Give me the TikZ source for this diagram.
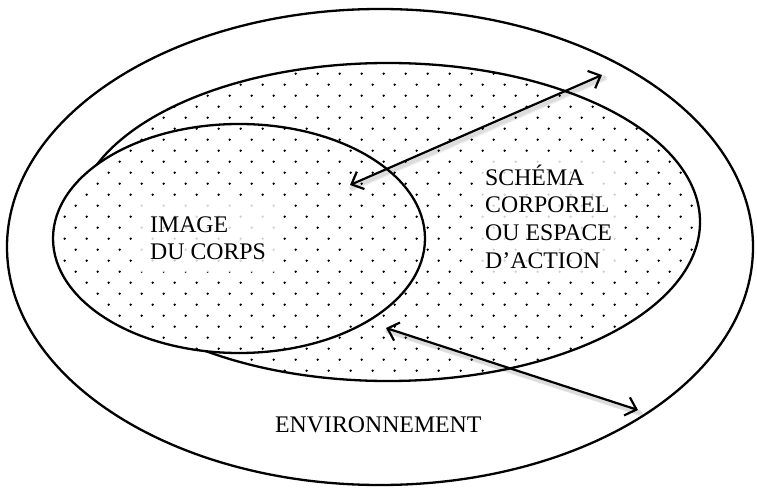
\documentclass[tikz,border=0pt]{standalone}
\usepackage{fontspec}
\setmainfont{Liberation Serif}
\usetikzlibrary{arrows.meta}
\newcommand{\dotgrid}{%
  \foreach \j in {-4,...,25} {
    \pgfmathsetmacro\yy{106.7+11*\j}
    \pgfmathsetmacro\off{mod(abs(\j),2)*11}
    \foreach \i in {-8,...,24} {
      \fill (196.7+22*\i-\off,\yy) circle [radius=1.3];
    }
  }}
\newcommand{\innerregions}{%
  \clip (388,222) ellipse [x radius=312, y radius=159]
        (239,238.5) ellipse [x radius=186, y radius=114.5];}
\begin{document}
\begin{tikzpicture}[x=1pt,y=-1pt,
  ring/.style={line width=2.3pt},
  tagtext/.style={font=\fontsize{23.8}{27.7}\selectfont, align=left, inner sep=12pt},
  tagback/.style={tagtext, fill=white, text=white},
  plaintag/.style={font=\fontsize{23.8}{27.7}\selectfont, inner sep=0pt},
  link/.style={line width=2.2pt,
    {Straight Barb[length=10pt,width=19pt]}-{Straight Barb[length=10pt,width=19pt]}},
  linkshadow/.style={line width=5pt, black, opacity=0.07, line cap=round}
]
\fill[white] (0,0) rectangle (757,489);
\useasboundingbox (0,0) rectangle (757,489);

% environment
\draw[ring] (380,247) ellipse [x radius=373, y radius=238];
% body schema / action space
\draw[ring] (388,222) ellipse [x radius=312, y radius=159];
% body image covers the part of the schema outline behind it
\fill[white] (239,238.5) ellipse [x radius=186, y radius=114.5];

% dotted fill of both inner regions
\begin{scope}
  \innerregions
  \dotgrid
\end{scope}

\draw[ring] (239,238.5) ellipse [x radius=186, y radius=114.5];

% label backgrounds: dots behind the text are faded
\node[tagback, anchor=base west] (imgbg) at (138,259.7) {IMAGE\\DU CORPS};
\node[tagback, anchor=base west] (schbg) at (473,268.1) {SCHÉMA\\CORPOREL\\OU ESPACE\\D’ACTION};
\begin{scope}[black!18]
  \innerregions
  \clip (imgbg.south west) rectangle (imgbg.north east)
        (schbg.south west) rectangle (schbg.north east);
  \dotgrid
\end{scope}

% labels (base anchor sits on the last line)
\node[tagtext, anchor=base west] (img) at (138,259.7) {IMAGE\\DU CORPS};
\node[tagtext, anchor=base west] (sch) at (473,268.1) {SCHÉMA\\CORPOREL\\OU ESPACE\\D’ACTION};
\node[plaintag, anchor=base west] (env) at (275,432) {ENVIRONNEMENT};

% interaction arrows
\coordinate (a1) at (602,75);
\coordinate (a2) at (350,185);
\coordinate (b1) at (386,328);
\coordinate (b2) at (638,410);
\foreach \s in {(1.5,2.5),(2.5,3.5)} {
  \draw[linkshadow] ([shift={\s}]a1) -- ([shift={\s}]a2);
  \draw[linkshadow] ([shift={\s}]b1) -- ([shift={\s}]b2);
}
\draw[link] (a1) -- (a2);
\draw[link] (b1) -- (b2);
\end{tikzpicture}
\end{document}
